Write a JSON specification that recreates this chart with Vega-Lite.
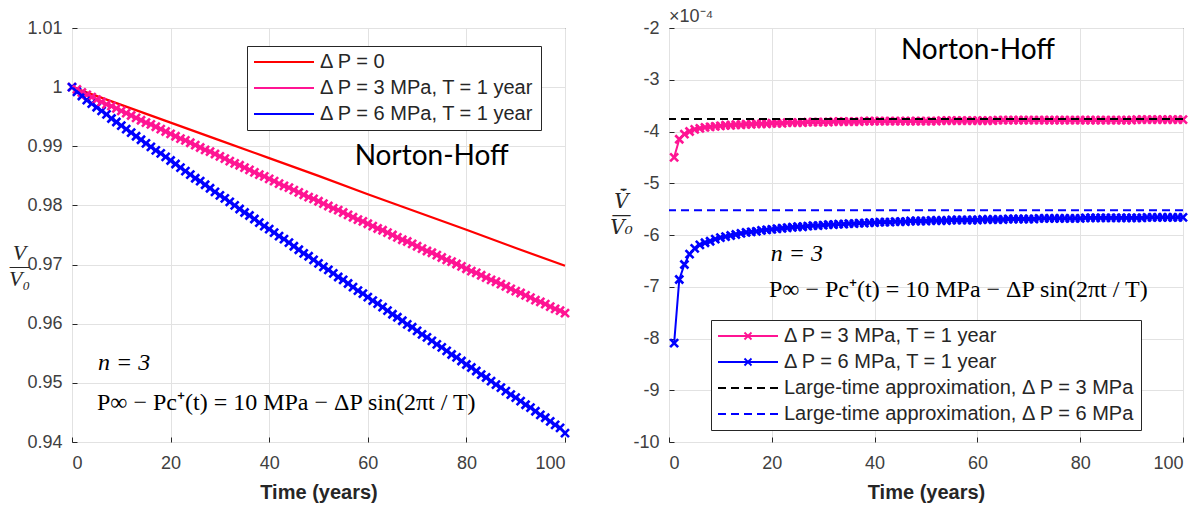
{
"$schema": "https://vega.github.io/schema/vega-lite/v6.json",
"background": "white",
"padding": {"left": 7, "top": 7, "right": 5, "bottom": 0},
"bounds": "flush",
"spacing": 104,
"datasets": {
"leftRed": [
{"t":0,"v":1.0,"s":"r"},{"t":10,"v":0.9970,"s":"r"},{"t":20,"v":0.9940,"s":"r"},{"t":30,"v":0.9910,"s":"r"},{"t":40,"v":0.9880,"s":"r"},{"t":50,"v":0.9850,"s":"r"},{"t":60,"v":0.9819,"s":"r"},{"t":70,"v":0.9789,"s":"r"},{"t":80,"v":0.9759,"s":"r"},{"t":90,"v":0.9728,"s":"r"},{"t":100,"v":0.9698,"s":"r"}
],
"leftWide": [
{"t":0,"p3":1.0,"p6":1.0},{"t":1,"p3":0.9996,"p6":0.9992},{"t":2,"p3":0.9991,"p6":0.9985},{"t":3,"p3":0.9987,"p6":0.9978},{"t":4,"p3":0.9983,"p6":0.9972},{"t":5,"p3":0.9979,"p6":0.9966},{"t":6,"p3":0.9975,"p6":0.9960},{"t":7,"p3":0.9971,"p6":0.9954},{"t":8,"p3":0.9968,"p6":0.9947},{"t":9,"p3":0.9964,"p6":0.9941},
{"t":10,"p3":0.9960,"p6":0.9935},{"t":11,"p3":0.9956,"p6":0.9929},{"t":12,"p3":0.9952,"p6":0.9923},{"t":13,"p3":0.9948,"p6":0.9917},{"t":14,"p3":0.9944,"p6":0.9911},{"t":15,"p3":0.9940,"p6":0.9905},{"t":16,"p3":0.9937,"p6":0.9899},{"t":17,"p3":0.9933,"p6":0.9893},{"t":18,"p3":0.9929,"p6":0.9888},{"t":19,"p3":0.9925,"p6":0.9882},
{"t":20,"p3":0.9921,"p6":0.9876},{"t":21,"p3":0.9917,"p6":0.9870},{"t":22,"p3":0.9913,"p6":0.9864},{"t":23,"p3":0.9910,"p6":0.9858},{"t":24,"p3":0.9906,"p6":0.9852},{"t":25,"p3":0.9902,"p6":0.9846},{"t":26,"p3":0.9898,"p6":0.9841},{"t":27,"p3":0.9894,"p6":0.9835},{"t":28,"p3":0.9891,"p6":0.9829},{"t":29,"p3":0.9887,"p6":0.9823},
{"t":30,"p3":0.9883,"p6":0.9817},{"t":31,"p3":0.9879,"p6":0.9812},{"t":32,"p3":0.9875,"p6":0.9806},{"t":33,"p3":0.9871,"p6":0.9800},{"t":34,"p3":0.9868,"p6":0.9794},{"t":35,"p3":0.9864,"p6":0.9788},{"t":36,"p3":0.9860,"p6":0.9783},{"t":37,"p3":0.9856,"p6":0.9777},{"t":38,"p3":0.9852,"p6":0.9771},{"t":39,"p3":0.9849,"p6":0.9765},
{"t":40,"p3":0.9845,"p6":0.9760},{"t":41,"p3":0.9841,"p6":0.9754},{"t":42,"p3":0.9837,"p6":0.9748},{"t":43,"p3":0.9833,"p6":0.9743},{"t":44,"p3":0.9830,"p6":0.9737},{"t":45,"p3":0.9826,"p6":0.9731},{"t":46,"p3":0.9822,"p6":0.9725},{"t":47,"p3":0.9818,"p6":0.9719},{"t":48,"p3":0.9814,"p6":0.9714},{"t":49,"p3":0.9811,"p6":0.9708},
{"t":50,"p3":0.9807,"p6":0.9702},{"t":51,"p3":0.9803,"p6":0.9696},{"t":52,"p3":0.9799,"p6":0.9691},{"t":53,"p3":0.9795,"p6":0.9685},{"t":54,"p3":0.9792,"p6":0.9679},{"t":55,"p3":0.9788,"p6":0.9674},{"t":56,"p3":0.9784,"p6":0.9668},{"t":57,"p3":0.9780,"p6":0.9662},{"t":58,"p3":0.9776,"p6":0.9656},{"t":59,"p3":0.9773,"p6":0.9651},
{"t":60,"p3":0.9769,"p6":0.9645},{"t":61,"p3":0.9765,"p6":0.9639},{"t":62,"p3":0.9761,"p6":0.9634},{"t":63,"p3":0.9758,"p6":0.9628},{"t":64,"p3":0.9754,"p6":0.9622},{"t":65,"p3":0.9750,"p6":0.9616},{"t":66,"p3":0.9746,"p6":0.9611},{"t":67,"p3":0.9742,"p6":0.9605},{"t":68,"p3":0.9739,"p6":0.9599},{"t":69,"p3":0.9735,"p6":0.9594},
{"t":70,"p3":0.9731,"p6":0.9588},{"t":71,"p3":0.9727,"p6":0.9582},{"t":72,"p3":0.9723,"p6":0.9577},{"t":73,"p3":0.9720,"p6":0.9571},{"t":74,"p3":0.9716,"p6":0.9565},{"t":75,"p3":0.9712,"p6":0.9560},{"t":76,"p3":0.9708,"p6":0.9554},{"t":77,"p3":0.9705,"p6":0.9548},{"t":78,"p3":0.9701,"p6":0.9543},{"t":79,"p3":0.9697,"p6":0.9537},
{"t":80,"p3":0.9693,"p6":0.9531},{"t":81,"p3":0.9689,"p6":0.9526},{"t":82,"p3":0.9686,"p6":0.9520},{"t":83,"p3":0.9682,"p6":0.9514},{"t":84,"p3":0.9678,"p6":0.9509},{"t":85,"p3":0.9674,"p6":0.9503},{"t":86,"p3":0.9671,"p6":0.9497},{"t":87,"p3":0.9667,"p6":0.9492},{"t":88,"p3":0.9663,"p6":0.9486},{"t":89,"p3":0.9659,"p6":0.9480},
{"t":90,"p3":0.9655,"p6":0.9475},{"t":91,"p3":0.9652,"p6":0.9469},{"t":92,"p3":0.9648,"p6":0.9463},{"t":93,"p3":0.9644,"p6":0.9458},{"t":94,"p3":0.9640,"p6":0.9452},{"t":95,"p3":0.9637,"p6":0.9446},{"t":96,"p3":0.9633,"p6":0.9441},{"t":97,"p3":0.9629,"p6":0.9435},{"t":98,"p3":0.9625,"p6":0.9429},{"t":99,"p3":0.9622,"p6":0.9424},
{"t":100,"p3":0.9618,"p6":0.9415}
],
"rightWide": [
{"t":1,"p3":-4.50,"p6":-8.09},{"t":2,"p3":-4.15,"p6":-6.86},{"t":3,"p3":-4.05,"p6":-6.57},{"t":4,"p3":-4.00,"p6":-6.37},{"t":5,"p3":-3.96,"p6":-6.26},{"t":6,"p3":-3.94,"p6":-6.19},{"t":7,"p3":-3.92,"p6":-6.15},{"t":8,"p3":-3.91,"p6":-6.12},{"t":9,"p3":-3.90,"p6":-6.08},{"t":10,"p3":-3.89,"p6":-6.05},
{"t":11,"p3":-3.88,"p6":-6.03},{"t":12,"p3":-3.88,"p6":-6.01},{"t":13,"p3":-3.87,"p6":-5.99},{"t":14,"p3":-3.87,"p6":-5.97},{"t":15,"p3":-3.86,"p6":-5.95},{"t":16,"p3":-3.86,"p6":-5.94},{"t":17,"p3":-3.85,"p6":-5.93},{"t":18,"p3":-3.85,"p6":-5.91},{"t":19,"p3":-3.85,"p6":-5.90},{"t":20,"p3":-3.84,"p6":-5.89},
{"t":21,"p3":-3.84,"p6":-5.88},{"t":22,"p3":-3.84,"p6":-5.87},{"t":23,"p3":-3.83,"p6":-5.86},{"t":24,"p3":-3.83,"p6":-5.85},{"t":25,"p3":-3.83,"p6":-5.84},{"t":26,"p3":-3.83,"p6":-5.84},{"t":27,"p3":-3.82,"p6":-5.83},{"t":28,"p3":-3.82,"p6":-5.82},{"t":29,"p3":-3.82,"p6":-5.82},{"t":30,"p3":-3.82,"p6":-5.81},
{"t":31,"p3":-3.82,"p6":-5.80},{"t":32,"p3":-3.81,"p6":-5.80},{"t":33,"p3":-3.81,"p6":-5.79},{"t":34,"p3":-3.81,"p6":-5.79},{"t":35,"p3":-3.81,"p6":-5.78},{"t":36,"p3":-3.81,"p6":-5.78},{"t":37,"p3":-3.81,"p6":-5.77},{"t":38,"p3":-3.80,"p6":-5.77},{"t":39,"p3":-3.80,"p6":-5.76},{"t":40,"p3":-3.80,"p6":-5.76},
{"t":41,"p3":-3.80,"p6":-5.75},{"t":42,"p3":-3.80,"p6":-5.75},{"t":43,"p3":-3.80,"p6":-5.75},{"t":44,"p3":-3.80,"p6":-5.74},{"t":45,"p3":-3.80,"p6":-5.74},{"t":46,"p3":-3.80,"p6":-5.74},{"t":47,"p3":-3.80,"p6":-5.73},{"t":48,"p3":-3.80,"p6":-5.73},{"t":49,"p3":-3.80,"p6":-5.73},{"t":50,"p3":-3.80,"p6":-5.73},
{"t":51,"p3":-3.80,"p6":-5.72},{"t":52,"p3":-3.80,"p6":-5.72},{"t":53,"p3":-3.79,"p6":-5.72},{"t":54,"p3":-3.79,"p6":-5.72},{"t":55,"p3":-3.79,"p6":-5.71},{"t":56,"p3":-3.79,"p6":-5.71},{"t":57,"p3":-3.79,"p6":-5.71},{"t":58,"p3":-3.79,"p6":-5.71},{"t":59,"p3":-3.79,"p6":-5.71},{"t":60,"p3":-3.79,"p6":-5.71},
{"t":61,"p3":-3.79,"p6":-5.70},{"t":62,"p3":-3.79,"p6":-5.70},{"t":63,"p3":-3.79,"p6":-5.70},{"t":64,"p3":-3.78,"p6":-5.70},{"t":65,"p3":-3.78,"p6":-5.70},{"t":66,"p3":-3.78,"p6":-5.69},{"t":67,"p3":-3.78,"p6":-5.69},{"t":68,"p3":-3.78,"p6":-5.69},{"t":69,"p3":-3.78,"p6":-5.69},{"t":70,"p3":-3.78,"p6":-5.69},
{"t":71,"p3":-3.78,"p6":-5.69},{"t":72,"p3":-3.78,"p6":-5.68},{"t":73,"p3":-3.78,"p6":-5.68},{"t":74,"p3":-3.78,"p6":-5.68},{"t":75,"p3":-3.78,"p6":-5.68},{"t":76,"p3":-3.78,"p6":-5.68},{"t":77,"p3":-3.78,"p6":-5.68},{"t":78,"p3":-3.78,"p6":-5.68},{"t":79,"p3":-3.78,"p6":-5.68},{"t":80,"p3":-3.78,"p6":-5.68},
{"t":81,"p3":-3.78,"p6":-5.67},{"t":82,"p3":-3.78,"p6":-5.67},{"t":83,"p3":-3.78,"p6":-5.67},{"t":84,"p3":-3.78,"p6":-5.67},{"t":85,"p3":-3.78,"p6":-5.67},{"t":86,"p3":-3.78,"p6":-5.67},{"t":87,"p3":-3.78,"p6":-5.67},{"t":88,"p3":-3.78,"p6":-5.67},{"t":89,"p3":-3.78,"p6":-5.67},{"t":90,"p3":-3.78,"p6":-5.67},
{"t":91,"p3":-3.77,"p6":-5.67},{"t":92,"p3":-3.77,"p6":-5.67},{"t":93,"p3":-3.77,"p6":-5.66},{"t":94,"p3":-3.77,"p6":-5.66},{"t":95,"p3":-3.77,"p6":-5.66},{"t":96,"p3":-3.77,"p6":-5.66},{"t":97,"p3":-3.77,"p6":-5.66},{"t":98,"p3":-3.77,"p6":-5.66},{"t":99,"p3":-3.77,"p6":-5.66},{"t":100,"p3":-3.77,"p6":-5.66}
],
"rightApprox": [
{"s":"d3","v":-3.76},{"s":"d6","v":-5.52}
]
},
"hconcat": [
{
"width": 493, "height": 414,
"layer": [
{
"data": {"name": "leftRed"},
"mark": {"type": "line", "strokeWidth": 2.2},
"encoding": {
"x": {"field": "t", "type": "quantitative", "scale": {"domain": [0, 100], "nice": false}, "axis": {"values": [0,20,40,60,80,100], "title": "Time (years)"}},
"y": {"field": "v", "type": "quantitative", "scale": {"domain": [0.94, 1.01], "nice": false, "zero": false}, "axis": {"values": [0.94,0.95,0.96,0.97,0.98,0.99,1,1.01], "labelExpr": "'' + datum.value", "title": ["V", "—", "V₀"], "titleX": -53, "titleY": 224}},
"color": {"field": "s", "type": "nominal", "scale": {"domain": ["r","p3","p6"], "range": ["#ff0000","#ff1493","#0000ff"]},
"legend": {"orient": "none", "legendX": 175, "legendY": 18, "title": null, "labelExpr": "datum.label == 'r' ? 'Δ P = 0' : datum.label == 'p3' ? 'Δ P = 3 MPa, T = 1 year' : 'Δ P = 6 MPa, T = 1 year'"}}
}
},
{
"data": {"name": "leftWide"},
"transform": [{"fold": ["p3","p6"], "as": ["s","v"]}],
"mark": {"type": "line", "strokeWidth": 2, "point": {"shape": "M-1,-1L1,1M-1,1L1,-1", "filled": false, "size": 64, "strokeWidth": 2.6}},
"encoding": {
"x": {"field": "t", "type": "quantitative"},
"y": {"field": "v", "type": "quantitative"},
"color": {"field": "s", "type": "nominal"}
}
},
{
"data": {"values": [{}]},
"mark": {"type": "text", "font": "Lato", "fontSize": 28, "align": "center", "baseline": "alphabetic", "color": "#000000"},
"encoding": {"x": {"datum": 72.96, "type": "quantitative"}, "y": {"datum": 0.98682, "type": "quantitative"}, "text": {"value": "Norton-Hoff"}}
},
{
"data": {"values": [{}]},
"mark": {"type": "text", "font": "Liberation Serif", "fontSize": 24, "fontStyle": "italic", "align": "left", "baseline": "alphabetic", "color": "#000000"},
"encoding": {"x": {"datum": 5.27, "type": "quantitative"}, "y": {"datum": 0.95213, "type": "quantitative"}, "text": {"value": "n = 3"}}
},
{
"data": {"values": [{}]},
"mark": {"type": "text", "font": "Liberation Serif", "fontSize": 24, "align": "left", "baseline": "alphabetic", "color": "#000000"},
"encoding": {"x": {"datum": 5.07, "type": "quantitative"}, "y": {"datum": 0.94536, "type": "quantitative"}, "text": {"value": "P∞ − Pc⁺(t) = 10 MPa − ΔP sin(2πt / T)"}}
}
]
},
{
"width": 514, "height": 414,
"layer": [
{
"data": {"name": "rightWide"},
"transform": [{"fold": ["p3","p6"], "as": ["s","v"]}],
"mark": {"type": "line", "strokeWidth": 2, "point": {"shape": "M-1,-1L1,1M-1,1L1,-1", "filled": false, "size": 64, "strokeWidth": 2.6}},
"encoding": {
"x": {"field": "t", "type": "quantitative", "scale": {"domain": [0, 100], "nice": false}, "axis": {"values": [0,20,40,60,80,100], "title": "Time (years)"}},
"y": {"field": "v", "type": "quantitative", "scale": {"domain": [-10, -2], "nice": false, "zero": false}, "axis": {"values": [-10,-9,-8,-7,-6,-5,-4,-3,-2], "labelExpr": "'' + datum.value", "title": ["V̄̇", "—", "V₀"], "titleFont": "DejaVu Serif", "titleFontSize": 20, "titleX": -48, "titleY": 173}},
"color": {"field": "s", "type": "nominal", "scale": {"domain": ["p3","p6","d3","d6"], "range": ["#ff1493","#0000ff","#000000","#0000ff"]},
"legend": {"orient": "none", "legendX": 42, "legendY": 292, "title": null,
"labelExpr": "datum.label == 'p3' ? 'Δ P = 3 MPa, T = 1 year' : datum.label == 'p6' ? 'Δ P = 6 MPa, T = 1 year' : datum.label == 'd3' ? 'Large-time approximation, Δ P = 3 MPa' : 'Large-time approximation, Δ P = 6 MPa'",
"encode": {"symbols": {"update": {
"shape": {"signal": "(datum.value == 'd3' || datum.value == 'd6') ? 'M-6,0L6,0' : 'M-6,0L6,0M-0.7,-0.7L0.7,0.7M-0.7,0.7L0.7,-0.7'"},
"strokeDash": {"signal": "(datum.value == 'd3' || datum.value == 'd6') ? [8,5] : [1,0]"}
}}}}
}
}
},
{
"data": {"name": "rightApprox"},
"mark": {"type": "rule", "strokeDash": [8, 5], "strokeWidth": 2},
"encoding": {
"y": {"field": "v", "type": "quantitative"},
"color": {"field": "s", "type": "nominal"}
}
},
{
"data": {"values": [{}]},
"mark": {"type": "text", "font": "Lato", "fontSize": 28, "align": "center", "baseline": "alphabetic", "color": "#000000"},
"encoding": {"x": {"datum": 60.1, "type": "quantitative"}, "y": {"datum": -2.595, "type": "quantitative"}, "text": {"value": "Norton-Hoff"}}
},
{
"data": {"values": [{}]},
"mark": {"type": "text", "font": "Liberation Serif", "fontSize": 24, "fontStyle": "italic", "align": "left", "baseline": "alphabetic", "color": "#000000"},
"encoding": {"x": {"datum": 19.8, "type": "quantitative"}, "y": {"datum": -6.51, "type": "quantitative"}, "text": {"value": "n = 3"}}
},
{
"data": {"values": [{}]},
"mark": {"type": "text", "font": "Liberation Serif", "fontSize": 24, "align": "left", "baseline": "alphabetic", "color": "#000000"},
"encoding": {"x": {"datum": 19.46, "type": "quantitative"}, "y": {"datum": -7.19, "type": "quantitative"}, "text": {"value": "P∞ − Pc⁺(t) = 10 MPa − ΔP sin(2πt / T)"}}
},
{
"data": {"values": [{}]},
"mark": {"type": "text", "font": "Liberation Sans", "fontSize": 18, "align": "left", "baseline": "alphabetic", "color": "#404040"},
"encoding": {"x": {"datum": 0, "type": "quantitative"}, "y": {"datum": -1.878, "type": "quantitative"}, "text": {"value": "×10⁻⁴"}}
}
]
}
],
"resolve": {"scale": {"color": "independent"}, "legend": {"color": "independent"}},
"config": {
"view": {"stroke": "#262626", "strokeWidth": 1},
"axis": {
"domain": false, "grid": true, "gridColor": "#e2e2e2", "gridWidth": 1,
"tickColor": "#262626", "tickSize": -5, "tickWidth": 1,
"labelFont": "Liberation Sans", "labelFontSize": 18, "labelColor": "#404040",
"titleColor": "#262626"
},
"axisX": {"labelPadding": 17, "titleFont": "Liberation Sans", "titleFontSize": 20, "titleFontWeight": "bold", "titleY": 50, "titleBaseline": "middle"},
"axisY": {"labelPadding": 15, "titleFont": "Liberation Serif", "titleFontSize": 22, "titleFontStyle": "italic", "titleFontWeight": "normal", "titleAngle": 0, "titleAlign": "center", "titleBaseline": "middle", "titleLineHeight": 13},
"legend": {
"labelFont": "Liberation Sans", "labelFontSize": 20, "labelColor": "#262626", "labelLimit": 500,
"strokeColor": "#262626", "fillColor": "white", "padding": 6, "rowPadding": 6,
"symbolType": "M-6,0L6,0", "symbolSize": 100, "symbolStrokeWidth": 2,
"symbolOffset": 21, "labelOffset": 26
}
}
}
